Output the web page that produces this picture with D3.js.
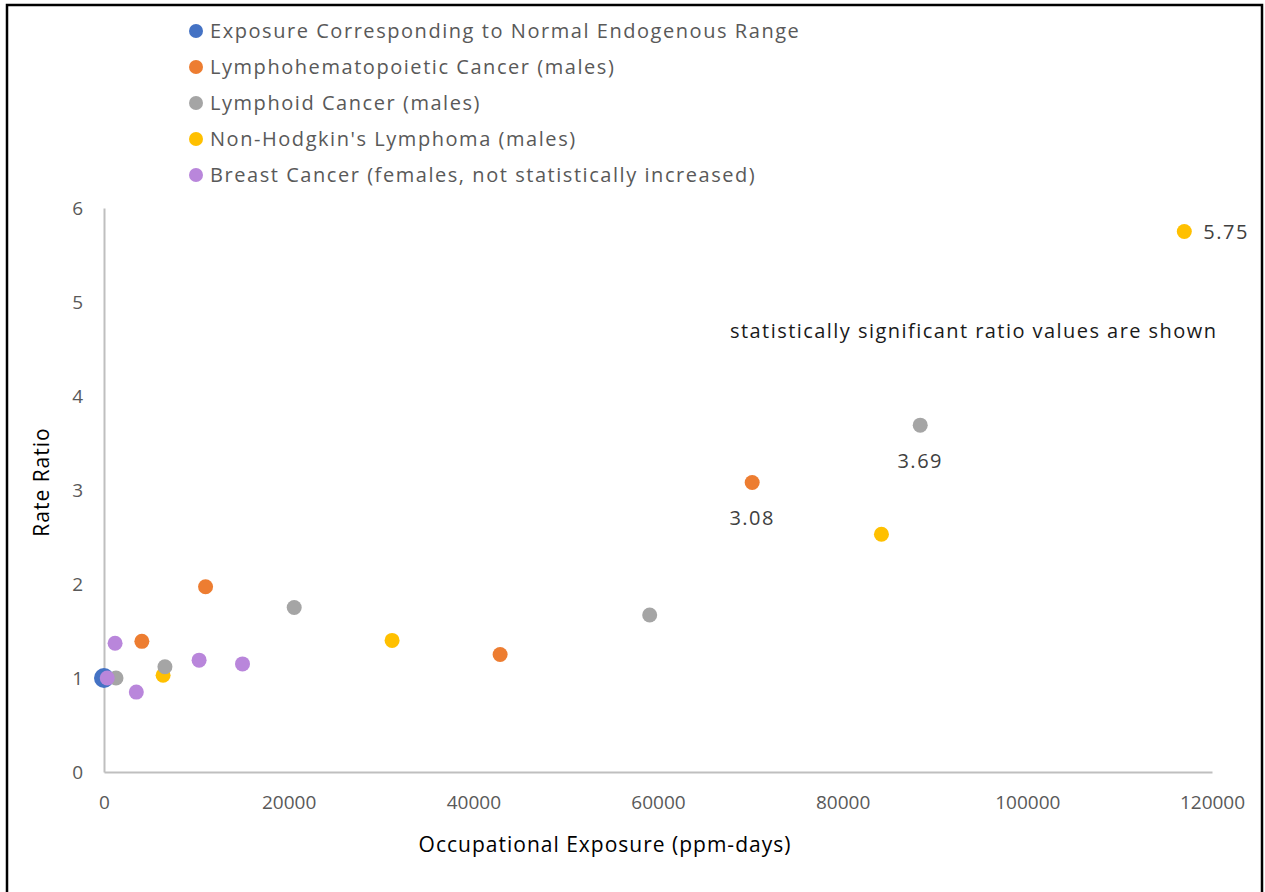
<!DOCTYPE html>
<html><head><meta charset="utf-8">
<script src="https://cdn.jsdelivr.net/npm/d3@7"></script>
<style>html,body{margin:0;padding:0;background:#fff;}svg{display:block;}</style>
</head><body>
<svg id="chart" width="1265" height="892"></svg>
<script>
// ---- data ----
const seriesNames = [
  "Exposure Corresponding to Normal Endogenous Range",
  "Lymphohematopoietic Cancer (males)",
  "Lymphoid Cancer (males)",
  "Non-Hodgkin's Lymphoma (males)",
  "Breast Cancer (females, not statistically increased)"
];
const seriesColors = ["#4472C4", "#ED7D31", "#A5A5A5", "#FFC000", "#B986DB"];
const normalX = [0];
const normalY = [1.0];
const lhX = [4100, 11000, 42900, 70200];
const lhY = [1.39, 1.97, 1.25, 3.08];
const lymphoidX = [1300, 6600, 20600, 59100, 88400];
const lymphoidY = [1.0, 1.12, 1.75, 1.67, 3.69];
const nhlX = [6400, 31200, 84200, 117000];
const nhlY = [1.03, 1.40, 2.53, 5.75];
const breastX = [1200, 350, 3500, 10300, 15000];
const breastY = [1.37, 1.0, 0.85, 1.19, 1.15];
const xTicks = [0, 20000, 40000, 60000, 80000, 100000, 120000];
const yTicks = [0, 1, 2, 3, 4, 5, 6];
const labeled = [
  {series: 1, x: 70200, y: 3.08, text: "3.08", pos: "below"},
  {series: 2, x: 88400, y: 3.69, text: "3.69", pos: "below"},
  {series: 3, x: 117000, y: 5.75, text: "5.75", pos: "right"}
];
const annotation = "statistically significant ratio values are shown";

// ---- chart ----
const svg = d3.select("#chart");
const font = "'Open Sans', 'Noto Sans', sans-serif";
const x = d3.scaleLinear().domain([0, 120000]).range([104, 1212]);
const y = d3.scaleLinear().domain([0, 6]).range([772, 208]);

// outer border
svg.append("rect").attr("x", 7).attr("y", 5).attr("width", 1255).attr("height", 900)
  .attr("fill", "none").attr("stroke", "#000").attr("stroke-width", 2.5);

// axes
const xAxis = svg.append("g").attr("transform", "translate(0,772)")
  .call(d3.axisBottom(x).tickValues(xTicks).tickFormat(d3.format("d")).tickSize(0).tickPadding(24));
const yAxis = svg.append("g").attr("transform", "translate(104,0)")
  .call(d3.axisLeft(y).tickValues(yTicks).tickFormat(d3.format("d")).tickSize(0).tickPadding(21));
[xAxis, yAxis].forEach(g => {
  g.select(".domain").attr("stroke", "#BFBFBF").attr("stroke-width", 2);
  g.selectAll("text").attr("fill", "#595959").style("font-family", font).style("font-size", "19px");
});
xAxis.selectAll("text").attr("dy", "0.71em");

// axis titles
svg.append("text").attr("x", 605).attr("y", 852).attr("text-anchor", "middle")
  .style("font-family", font).style("font-size", "21px").style("letter-spacing", "1px").attr("fill", "#000")
  .text("Occupational Exposure (ppm-days)");
svg.append("text").attr("transform", "translate(49,482) rotate(-90)").attr("text-anchor", "middle")
  .style("font-family", font).style("font-size", "21px").style("letter-spacing", "1px").attr("fill", "#000")
  .text("Rate Ratio");

// points (drawing order)
const all = [
  {s: 0, xs: normalX, ys: normalY, r: 10},
  {s: 1, xs: lhX, ys: lhY, r: 7.5},
  {s: 3, xs: nhlX, ys: nhlY, r: 7.5},
  {s: 2, xs: lymphoidX, ys: lymphoidY, r: 7.5},
  {s: 4, xs: breastX, ys: breastY, r: 7.5}
];
all.forEach(ser => {
  const pts = ser.xs.map((v, i) => ({x: v, y: ser.ys[i]}));
  svg.append("g").selectAll("circle").data(pts).join("circle")
    .attr("cx", d => x(d.x)).attr("cy", d => y(d.y)).attr("r", ser.r)
    .attr("fill", seriesColors[ser.s]);
});

// data labels
labeled.forEach(l => {
  const t = svg.append("text").style("font-family", font).style("font-size", "20px")
    .style("letter-spacing", "1.5px").attr("fill", "#404040")
    .text(l.text);
  if (l.pos === "right") {
    t.attr("x", x(l.x) + 19).attr("y", y(l.y)).attr("dy", "0.35em");
  } else {
    t.attr("x", x(l.x)).attr("y", y(l.y) + 36).attr("dy", "0.35em").attr("text-anchor", "middle");
  }
});

// annotation
svg.append("text").attr("x", 730).attr("y", 331).attr("dy", "0.35em")
  .style("font-family", font).style("font-size", "20px").style("letter-spacing", "1.45px")
  .attr("fill", "#1a1a1a")
  .text(annotation);

// legend
const leg = svg.append("g");
seriesNames.forEach((n, i) => {
  const yy = 31 + i * 36;
  leg.append("circle").attr("cx", 196).attr("cy", yy).attr("r", 7).attr("fill", seriesColors[i]);
  leg.append("text").attr("x", 210).attr("y", yy).attr("dy", "0.35em")
    .style("font-family", font).style("font-size", "20px").style("letter-spacing", "1.55px")
    .attr("fill", "#595959").text(n);
});
</script>
</body></html>
